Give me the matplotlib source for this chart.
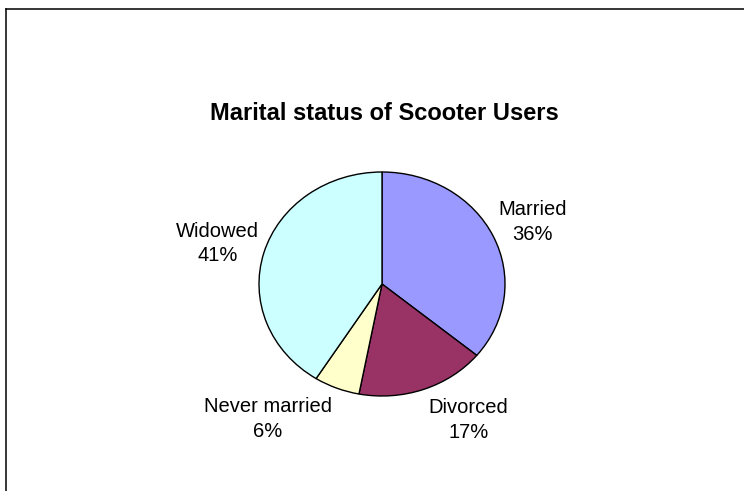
import numpy as np
import matplotlib
matplotlib.use("Agg")
import matplotlib.pyplot as plt
from matplotlib.lines import Line2D

# ---- data ----
categories = ["Married", "Divorced", "Never married", "Widowed"]
values = [36, 17, 6, 41]
colors = ["#9999FF", "#993366", "#FFFFCC", "#CCFFFF"]
title = "Marital status of Scooter Users"

plt.rcParams['font.family'] = ['Liberation Sans', 'DejaVu Sans']

W, H = 744, 491
fig = plt.figure(figsize=(W / 100, H / 100), dpi=100)
fig.patch.set_facecolor("white")

# outer chart frame (top and left edges visible)
fig.add_artist(Line2D([6 / W, 1.0], [1 - 9 / H, 1 - 9 / H], color="black", lw=1.1,
                      transform=fig.transFigure))
fig.add_artist(Line2D([6 / W, 6 / W], [0.0, 1 - 9 / H], color="black", lw=1.1,
                      transform=fig.transFigure))

# pie axes (slightly elliptical like the original)
left, right, top, bottom = 259, 505, 172, 396
ax = fig.add_axes([left / W, 1 - bottom / H, (right - left) / W, (bottom - top) / H])
wedges, _ = ax.pie(values, colors=colors, startangle=90, counterclock=False,
                   radius=1.0, wedgeprops=dict(edgecolor="black", linewidth=1.0))
ax.set_aspect("auto")
ax.set_xlim(-1, 1)
ax.set_ylim(-1, 1)
ax.axis("off")

fig.text(384 / W, 1 - 113 / H, title, ha="center", va="center",
         fontsize=17, fontweight="bold", color="black")

# labels placed outside each wedge, Excel-like
total = float(sum(values))
texts = []
for w, cat, v in zip(wedges, categories, values):
    t = fig.text(0, 0, f"{cat}\n{v / total:.0%}", ha="center", va="center",
                 multialignment="center", fontsize=14.5, linespacing=1.38, color="black")
    texts.append((w, t))

fig.canvas.draw()
renderer = fig.canvas.get_renderer()
gx, gy = 5, 11
for w, t in texts:
    ang = np.deg2rad((w.theta1 + w.theta2) / 2)
    c, s = np.cos(ang), np.sin(ang)
    ex, ey = ax.transData.transform((c, s))
    bb = t.get_window_extent(renderer)
    cx = ex + np.sign(c) * (bb.width / 2 + gx)
    cy = ey + s * (bb.height / 2 + gy)
    fx, fy = fig.transFigure.inverted().transform((cx, cy))
    t.set_position((fx, fy))

fig.savefig("out.png", dpi=100, facecolor="white")
